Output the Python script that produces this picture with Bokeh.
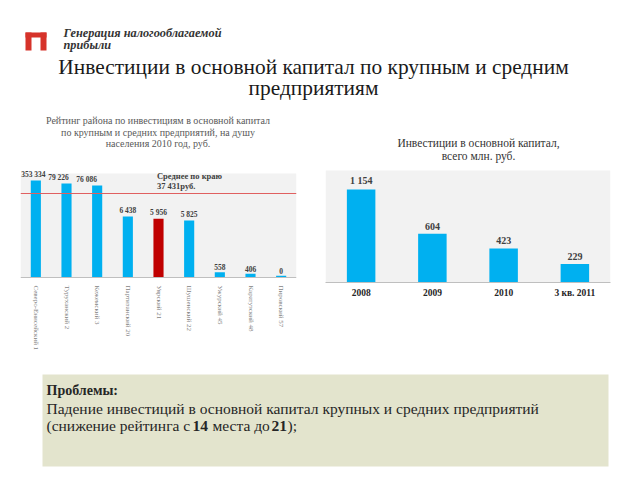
from bokeh.plotting import figure
from bokeh.layouts import column, row
from bokeh.models import Range1d, FixedTicker, Span, BoxAnnotation
from bokeh.core.properties import value
from bokeh.embed import file_html
from bokeh.resources import INLINE

LIB = value("Liberation Serif")

# ---------------- data ----------------
districts = ["Северо-Енисейский 1", "Туруханский 2", "Кежемский 3",
             "Партизанский 20", "Уярский 21", "Шушенский 22",
             "Ужурский 45", "Каратузский 48", "Пировский 57"]
district_values = [353334, 79226, 76086, 6438, 5956, 5825, 558, 406, 0]
district_value_labels = ["353 334", "79 226", "76 086", "6 438", "5 956",
                         "5 825", "558", "406", "0"]
# bar heights as drawn in the source chart (the source axis is not to scale)
district_bar_heights = [97, 94, 92, 61, 58.7, 57, 5.3, 3.7, 1.7]
highlight_district = "Уярский 21"
average_value_label = ["Среднее по краю", "37 431руб."]
average_bar_level = 84

years = ["2008", "2009", "2010", "3 кв. 2011"]
investments = [1154, 604, 423, 229]
investment_labels = ["1 154", "604", "423", "229"]

BLUE = "#00b0f0"
RED = "#c00000"
GRAY_BG = "#f2f2f2"


def clean(p):
    p.grid.visible = False
    p.outline_line_color = None


# ---------------- header ----------------
HEAD_H = 166
header = figure(width=640, height=HEAD_H, x_range=Range1d(0, 640), y_range=Range1d(HEAD_H, 0),
                output_backend="svg", toolbar_location=None, min_border=0,
                x_axis_location=None, y_axis_location=None)
clean(header)
logo_c = "#d6332a"
header.quad(left=[25, 25, 40], right=[46, 31, 46], top=[32, 32, 32], bottom=[37, 50, 50],
            fill_color=logo_c, line_color=None)
header.text(x=[63, 63], y=[32, 44], text=["Генерация налогооблагаемой", "прибыли"],
            text_font=LIB, text_font_style="bold italic", text_font_size="12.3px",
            text_color="#333333", text_align="left", text_baseline="middle")
header.text(x=[313, 313], y=[66, 87],
            text=["Инвестиции в основной капитал по крупным и средним", "предприятиям"],
            text_font=LIB, text_font_size="21.4px", text_color="#1a1a1a",
            text_align="center", text_baseline="middle")
header.text(x=[157.5] * 3, y=[120, 131.5, 143],
            text=["Рейтинг района по инвестициям в основной капитал",
                  "по крупным и средних предприятий, на душу",
                  "населения 2010 год, руб."],
            text_font=LIB, text_font_size="10px", text_color="#595959",
            text_align="center", text_baseline="middle")
header.text(x=[478, 478], y=[142, 155],
            text=["Инвестиции в основной капитал,", "всего млн. руб."],
            text_font=LIB, text_font_size="11.5px", text_color="#333333",
            text_align="center", text_baseline="middle")

# ---------------- left chart ----------------
idx = list(range(len(districts)))
left = figure(width=320, height=199, x_range=Range1d(-0.5, len(districts) - 0.5),
              y_range=Range1d(-5, 111), output_backend="svg", toolbar_location=None,
              min_border_left=20, min_border_right=24, min_border_top=0, min_border_bottom=83,
              y_axis_location=None)
clean(left)
left.add_layout(BoxAnnotation(bottom=0, top=104, fill_color=GRAY_BG, fill_alpha=1,
                              line_color=None, level="underlay"))
colors = [RED if d == highlight_district else BLUE for d in districts]
left.vbar(x=idx, top=district_bar_heights, width=0.33, fill_color=colors, line_color=None)
label_shift = [-2.5, -8, -10.5, 0, 0, 0, 0, 0, 0]
left.text(x=idx, y=district_bar_heights, text=district_value_labels, x_offset=label_shift,
          y_offset=-2, text_font=LIB, text_font_style="bold", text_font_size="7.5px",
          text_color="#404040", text_align="center", text_baseline="bottom")
left.add_layout(Span(location=0, dimension="width", line_color="#bfbfbf", line_width=1))
left.add_layout(Span(location=average_bar_level, dimension="width",
                     line_color="#e06060", line_width=1))
left.text(x=[3.95, 3.95], y=[102, 92], text=average_value_label, text_font=LIB,
          text_font_style="bold", text_font_size="8.5px", text_color="#404040",
          text_align="left", text_baseline="middle")
left.xaxis.ticker = FixedTicker(ticks=idx)
left.xaxis.major_label_overrides = {i: d for i, d in zip(idx, districts)}
left.xaxis.major_label_orientation = "vertical"
left.xaxis.major_tick_line_color = None
left.xaxis.major_tick_out = 0
left.xaxis.minor_tick_out = 0
left.xaxis.minor_tick_line_color = None
left.xaxis.axis_line_color = None
left.xaxis.major_label_text_font = "Liberation Serif"
left.xaxis.major_label_text_font_size = "7px"
left.xaxis.major_label_text_color = "#7f7f7f"
left.xaxis.major_label_standoff = 3

# ---------------- right chart ----------------
yidx = list(range(len(years)))
right = figure(width=320, height=199, x_range=Range1d(-0.5, len(years) - 0.5),
               y_range=Range1d(0, 1439.6), output_backend="svg", toolbar_location=None,
               min_border_left=5, min_border_right=30, min_border_top=0, min_border_bottom=83,
               y_axis_location=None)
clean(right)
right.add_layout(BoxAnnotation(bottom=0, top=1390, fill_color=GRAY_BG, fill_alpha=1,
                               line_color=None, level="underlay"))
right.vbar(x=yidx, top=investments, width=0.4, fill_color=BLUE, line_color=None)
right.text(x=yidx, y=investments, text=investment_labels, y_offset=-4, text_font=LIB,
           text_font_style="bold", text_font_size="10px", text_color="#404040",
           text_align="center", text_baseline="bottom")
right.xaxis.ticker = FixedTicker(ticks=yidx)
right.xaxis.major_label_overrides = {i: y for i, y in zip(yidx, years)}
right.xaxis.major_tick_line_color = None
right.xaxis.minor_tick_line_color = None
right.xaxis.major_tick_out = 0
right.xaxis.minor_tick_out = 0
right.xaxis.axis_line_color = "#bfbfbf"
right.xaxis.major_label_text_font = "Liberation Serif"
right.xaxis.major_label_text_font_style = "bold"
right.xaxis.major_label_text_font_size = "9.5px"
right.xaxis.major_label_text_color = "#262626"
right.xaxis.major_label_standoff = 5

# ---------------- bottom box ----------------
BOT_H = 480 - HEAD_H - 199
bottom = figure(width=640, height=BOT_H, x_range=Range1d(0, 640), y_range=Range1d(BOT_H, 0),
                output_backend="svg", toolbar_location=None, min_border=0,
                x_axis_location=None, y_axis_location=None)
clean(bottom)
bottom.quad(left=[42], right=[608], top=[9], bottom=[101], fill_color="#e3e4cd",
            line_color=None)
common = dict(text_font=LIB, text_color="#262626", text_align="left", text_baseline="middle")
bottom.text(x=[46], y=[25], text=["Проблемы:"], text_font_style="bold",
            text_font_size="14px", **common)
bottom.text(x=[46], y=[43],
            text=[" Падение инвестиций в основной капитал крупных и средних предприятий"],
            text_font_size="15.5px", **common)
bottom.text(x=[46, 212, 287], y=[60, 60, 60],
            text=["(снижение рейтинга с", "места до", ");"], text_font_size="15.5px", **common)
bottom.text(x=[192, 271], y=[60, 60], text=["14", "21"], text_font_style="bold",
            text_font_size="15.5px", **common)

layout = column(header, row(left, right), bottom)
open("out.html", "w").write(file_html(layout, INLINE))
